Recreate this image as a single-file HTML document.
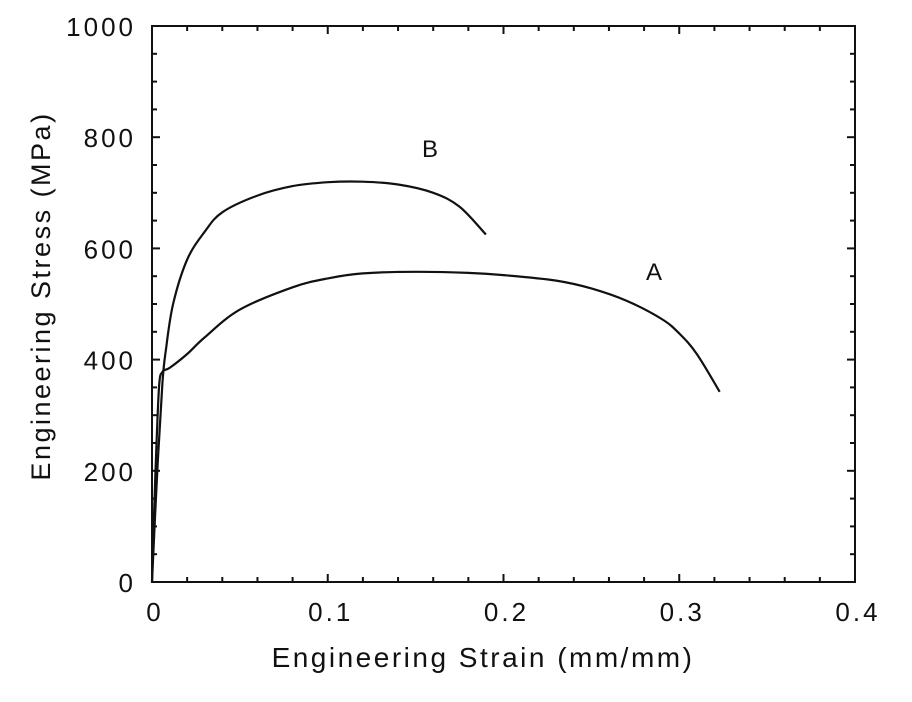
<!DOCTYPE html>
<html><head><meta charset="utf-8"><style>
body{margin:0;background:#fff}
svg{display:block}
text{font-family:"Liberation Sans",sans-serif;fill:#111}
</style></head><body>
<svg id="chart" width="912" height="702">
<rect x="152" y="26" width="703" height="556" fill="none" stroke="#111" stroke-width="2"/>
<g id="ticks"></g>
<g id="curves"></g>
<text x="483" y="667" font-size="28" text-anchor="middle" letter-spacing="2.5">Engineering Strain (mm/mm)</text>
<text transform="translate(50,296) rotate(-90)" font-size="27" text-anchor="middle" letter-spacing="2.5">Engineering Stress (MPa)</text>
<text x="430" y="157" font-size="24" text-anchor="middle">B</text>
<text x="654" y="280" font-size="24" text-anchor="middle">A</text>
</svg>
<script>
const xTicks=[0,0.1,0.2,0.3,0.4];
const xTickLabels=["0","0.1","0.2","0.3","0.4"];
const yTicks=[0,200,400,600,800,1000];
const yTickLabels=["0","200","400","600","800","1000"];
const strainA=[0,0.002,0.004,0.006,0.01,0.02,0.03,0.05,0.08,0.1,0.12,0.15,0.18,0.2,0.23,0.25,0.27,0.29,0.3,0.31,0.323];
const stressA=[0,200,350,378,385,410,440,490,530,546,555,558,556,552,542,528,506,473,447,410,342];
const strainB=[0,0.003,0.006,0.008,0.012,0.02,0.03,0.04,0.06,0.08,0.1,0.12,0.14,0.16,0.175,0.19];
const stressB=[0,200,360,420,500,580,630,665,695,712,719,720,715,700,675,625];
const NS="http://www.w3.org/2000/svg";
const X=v=>152+v*1757.5, Y=v=>582-v*0.556;
const tg=document.getElementById('ticks');
function el(t,a,p){const e=document.createElementNS(NS,t);for(const k in a)e.setAttribute(k,a[k]);p.appendChild(e);return e;}
for(let i=0;i<=20;i++){const v=i*0.02,x=X(v),L=i%5==0?8:5;
 const t1=el('line',{x1:x,y1:582,x2:x,y2:582-L,stroke:'#111','stroke-width':2},tg);
 
 const t2=el('line',{x1:x,y1:26,x2:x,y2:26+L,stroke:'#111','stroke-width':2},tg);
 }
for(let i=0;i<=20;i++){const v=i*50,y=Y(v),L=i%4==0?8:5;
 const t1=el('line',{x1:152,y1:y,x2:152+L,y2:y,stroke:'#111','stroke-width':2},tg);
 
 const t2=el('line',{x1:855,y1:y,x2:855-L,y2:y,stroke:'#111','stroke-width':2},tg);
 }
xTicks.forEach((v,i)=>{const t=el('text',{x:X(v)+3,y:621,'font-size':26,'text-anchor':'middle','letter-spacing':3},tg);t.textContent=xTickLabels[i];
 });
yTicks.forEach((v,i)=>{const t=el('text',{x:136,y:Y(v)+10,'font-size':26,'text-anchor':'end','letter-spacing':3},tg);t.textContent=yTickLabels[i];
 });
const cg=document.getElementById('curves');
function path(xs,ys){const p=xs.map((v,i)=>[X(v),Y(ys[i])]);let d='M'+p[0][0].toFixed(1)+' '+p[0][1].toFixed(1);
 for(let i=0;i<p.length-1;i++){const a=p[i-1]||p[i],b=p[i],c=p[i+1],e=p[i+2]||c;
  const c1=[b[0]+(c[0]-a[0])/6,b[1]+(c[1]-a[1])/6],c2=[c[0]-(e[0]-b[0])/6,c[1]-(e[1]-b[1])/6];
  d+='C'+c1[0].toFixed(1)+' '+c1[1].toFixed(1)+' '+c2[0].toFixed(1)+' '+c2[1].toFixed(1)+' '+c[0].toFixed(1)+' '+c[1].toFixed(1);}
 return d;}
const pa=el('path',{d:path(strainA,stressA),fill:'none',stroke:'#111','stroke-width':2.2,'stroke-linejoin':'round'},cg);

const pb=el('path',{d:path(strainB,stressB),fill:'none',stroke:'#111','stroke-width':2.2,'stroke-linejoin':'round'},cg);

</script>
</body></html>
